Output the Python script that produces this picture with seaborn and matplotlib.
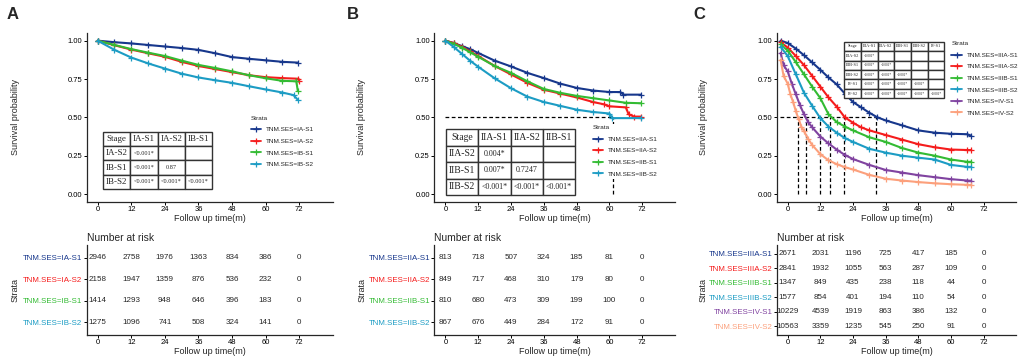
import matplotlib
matplotlib.use("Agg")
import matplotlib.pyplot as plt
from matplotlib.lines import Line2D
import seaborn as sns

W, H = 1021, 360
MONTHS = [0, 12, 24, 36, 48, 60, 72]

BLUE, RED, GREEN, CYAN, PURPLE, SALMON = "#17378c", "#f51c1c", "#33bb33", "#1c9cc4", "#8043a0", "#fca07c"

# ---------------- panel A (stage I)
a_strata = ["TNM.SES=IA-S1", "TNM.SES=IA-S2", "TNM.SES=IB-S1", "TNM.SES=IB-S2"]
a_t_ia_s1 = [0, 6, 12, 18, 24, 30, 36, 42, 48, 54, 60, 66, 71.5]
a_s_ia_s1 = [1.0, 0.99, 0.982, 0.972, 0.962, 0.952, 0.94, 0.918, 0.893, 0.882, 0.872, 0.862, 0.857]
a_t_ia_s2 = [0, 6, 12, 18, 24, 30, 36, 42, 48, 54, 60, 66, 71.5, 72]
a_s_ia_s2 = [1.0, 0.97, 0.942, 0.918, 0.895, 0.862, 0.835, 0.815, 0.795, 0.775, 0.762, 0.756, 0.752, 0.74]
a_t_ib_s1 = [0, 6, 12, 18, 24, 30, 36, 42, 48, 54, 60, 66, 71, 71.5]
a_s_ib_s1 = [1.0, 0.972, 0.945, 0.922, 0.9, 0.87, 0.842, 0.822, 0.8, 0.775, 0.755, 0.738, 0.735, 0.675]
a_t_ib_s2 = [0, 6, 12, 18, 24, 30, 36, 42, 48, 54, 60, 66, 70, 71.5]
a_s_ib_s2 = [1.0, 0.94, 0.89, 0.852, 0.818, 0.785, 0.76, 0.742, 0.725, 0.703, 0.682, 0.662, 0.645, 0.615]
a_risk_ia_s1 = [2946, 2758, 1976, 1363, 834, 386, 0]
a_risk_ia_s2 = [2158, 1947, 1359, 876, 536, 232, 0]
a_risk_ib_s1 = [1414, 1293, 948, 646, 396, 183, 0]
a_risk_ib_s2 = [1275, 1096, 741, 508, 324, 141, 0]
a_table_head = ["Stage", "IA-S1", "IA-S2", "IB-S1"]
a_table_rows = [["IA-S2", "<0.001*", "", ""],
                ["IB-S1", "<0.001*", "0.87", ""],
                ["IB-S2", "<0.001*", "<0.001*", "<0.001*"]]

# ---------------- panel B (stage II)
b_strata = ["TNM.SES=IIA-S1", "TNM.SES=IIA-S2", "TNM.SES=IIB-S1", "TNM.SES=IIB-S2"]
b_t_iia_s1 = [0, 3, 6, 9, 12, 18, 24, 30, 36, 42, 48, 54, 60, 64, 65, 71.5]
b_s_iia_s1 = [1.0, 0.985, 0.965, 0.945, 0.92, 0.87, 0.832, 0.79, 0.756, 0.72, 0.692, 0.675, 0.665, 0.665, 0.648, 0.648]
b_t_iia_s2 = [0, 3, 6, 9, 12, 18, 24, 30, 36, 42, 48, 54, 58, 60, 66, 67, 69, 71.5]
b_s_iia_s2 = [1.0, 0.985, 0.96, 0.93, 0.9, 0.835, 0.78, 0.725, 0.68, 0.655, 0.63, 0.6, 0.585, 0.572, 0.565, 0.52, 0.505, 0.505]
b_t_iib_s1 = [0, 3, 6, 9, 12, 18, 24, 30, 36, 42, 48, 54, 60, 66, 71.5]
b_s_iib_s1 = [1.0, 0.98, 0.955, 0.925, 0.895, 0.835, 0.79, 0.735, 0.685, 0.66, 0.64, 0.625, 0.61, 0.595, 0.592]
b_t_iib_s2 = [0, 3, 6, 9, 12, 18, 24, 30, 36, 42, 48, 54, 60, 61, 71.5]
b_s_iib_s2 = [1.0, 0.96, 0.915, 0.87, 0.83, 0.755, 0.69, 0.635, 0.6, 0.575, 0.55, 0.535, 0.525, 0.495, 0.495]
b_medians = [61.4]
b_risk_iia_s1 = [813, 718, 507, 324, 185, 81, 0]
b_risk_iia_s2 = [849, 717, 468, 310, 179, 80, 0]
b_risk_iib_s1 = [810, 680, 473, 309, 199, 100, 0]
b_risk_iib_s2 = [867, 676, 449, 284, 172, 91, 0]
b_table_head = ["Stage", "IIA-S1", "IIA-S2", "IIB-S1"]
b_table_rows = [["IIA-S2", "0.004*", "", ""],
                ["IIB-S1", "0.007*", "0.7247", ""],
                ["IIB-S2", "<0.001*", "<0.001*", "<0.001*"]]

# ---------------- panel C (stage III / IV)
c_strata = ["TNM.SES=IIIA-S1", "TNM.SES=IIIA-S2", "TNM.SES=IIIB-S1",
            "TNM.SES=IIIB-S2", "TNM.SES=IV-S1", "TNM.SES=IV-S2"]
c_t_iiia_s1 = [-2.6, 0, 3, 6, 9, 12, 15, 18, 21, 24, 27, 30, 33, 36, 42, 48, 54, 60, 66, 67.5]
c_s_iiia_s1 = [1.0, 0.985, 0.948, 0.905, 0.858, 0.81, 0.76, 0.715, 0.655, 0.6, 0.565, 0.53, 0.5, 0.48, 0.448, 0.415, 0.4, 0.393, 0.39, 0.378]
c_t_iiia_s2 = [-2.6, 0, 3, 6, 9, 12, 15, 18, 21, 24, 27, 30, 36, 42, 48, 54, 60, 66, 67.5]
c_s_iiia_s2 = [0.99, 0.955, 0.9, 0.84, 0.77, 0.7, 0.63, 0.57, 0.5, 0.465, 0.435, 0.415, 0.385, 0.355, 0.325, 0.305, 0.29, 0.287, 0.287]
c_t_iiib_s1 = [-2.6, 0, 3, 6, 9, 12, 15, 18, 21, 24, 30, 36, 42, 48, 54, 60, 66, 67.5]
c_s_iiib_s1 = [0.976, 0.935, 0.86, 0.78, 0.7, 0.625, 0.52, 0.47, 0.44, 0.415, 0.37, 0.34, 0.3, 0.27, 0.25, 0.225, 0.21, 0.21]
c_t_iiib_s2 = [-2.6, 0, 3, 6, 9, 12, 15, 18, 21, 24, 30, 36, 42, 48, 54, 60, 66, 67.5]
c_s_iiib_s2 = [0.96, 0.9, 0.78, 0.66, 0.575, 0.495, 0.44, 0.4, 0.365, 0.34, 0.295, 0.27, 0.25, 0.237, 0.225, 0.19, 0.177, 0.177]
c_t_iv_s1 = [-2.6, -1.5, 0, 1.5, 3, 4.5, 6, 7.5, 9, 12, 15, 18, 21, 24, 30, 36, 42, 48, 54, 60, 66, 67.5]
c_s_iv_s1 = [0.92, 0.84, 0.8, 0.72, 0.65, 0.58, 0.52, 0.47, 0.435, 0.375, 0.33, 0.29, 0.255, 0.228, 0.19, 0.157, 0.14, 0.123, 0.11, 0.097, 0.088, 0.086]
c_t_iv_s2 = [-2.6, -1.5, 0, 1, 2, 3, 4, 5, 6, 7.5, 9, 12, 15, 18, 21, 24, 30, 36, 42, 48, 54, 60, 66, 67.5]
c_s_iv_s2 = [0.875, 0.77, 0.72, 0.65, 0.6, 0.54, 0.49, 0.44, 0.41, 0.36, 0.32, 0.26, 0.22, 0.195, 0.175, 0.16, 0.125, 0.1, 0.088, 0.078, 0.07, 0.064, 0.06, 0.058]
c_medians = [3.7, 6.6, 11.7, 15.7, 20.6, 32.6]
c_risk_iiia_s1 = [2671, 2031, 1196, 725, 417, 185, 0]
c_risk_iiia_s2 = [2841, 1932, 1055, 563, 287, 109, 0]
c_risk_iiib_s1 = [1347, 849, 435, 238, 118, 44, 0]
c_risk_iiib_s2 = [1577, 854, 401, 194, 110, 54, 0]
c_risk_iv_s1 = [10229, 4539, 1919, 863, 386, 132, 0]
c_risk_iv_s2 = [10563, 3359, 1235, 545, 250, 91, 0]
c_table_head = ["Stage", "IIIA-S1", "IIIA-S2", "IIIB-S1", "IIIB-S2", "IV-S1"]
c_table_rows = [["IIIA-S2", "<0.001*", "", "", "", ""],
                ["IIIB-S1", "<0.001*", "<0.001*", "", "", ""],
                ["IIIB-S2", "<0.001*", "<0.001*", "<0.001*", "", ""],
                ["IV-S1", "<0.001*", "<0.001*", "<0.001*", "<0.001*", ""],
                ["IV-S2", "<0.001*", "<0.001*", "<0.001*", "<0.001*", "<0.001*"]]


sns.set_style("ticks")
plt.rcParams['font.family'] = ['Liberation Sans', 'DejaVu Sans']
plt.rcParams['axes.linewidth'] = 0.9


def px_axes(fig, l, t, r, b):
    return fig.add_axes([l / W, 1 - b / H, (r - l) / W, (b - t) / H])


def fig_text(fig, x, y, s, **kw):
    fig.text(x / W, 1 - y / H, s, **kw)


def style_axis(ax):
    sns.despine(ax=ax)
    ax.tick_params(length=2, width=0.7, labelsize=5.5, pad=1.2, colors='black')
    ax.set_xlim(-4, 84)
    ax.set_xticks(MONTHS)
    ax.set_xlabel('')
    ax.set_ylabel('')


def draw_km(ax, times, survs, colors):
    for t, s, c in zip(times, survs, colors):
        sns.lineplot(x=t, y=s, ax=ax, color=c, lw=1.5, marker='+', ms=4,
                     mec=c, mew=0.9, estimator=None, sort=False, legend=False)
    style_axis(ax)
    ax.set_ylim(-0.05, 1.05)
    ax.set_yticks([0, 0.25, 0.5, 0.75, 1.0])
    ax.set_yticklabels(['0.00', '0.25', '0.50', '0.75', '1.00'])


def draw_risk(ax, strata, risk, colors):
    n = len(strata)
    for i, row in enumerate(risk):
        for m, v in zip(MONTHS, row):
            ax.text(m, n - 1 - i, str(v), ha='center', va='center', fontsize=5.8)
    style_axis(ax)
    ax.set_ylim(-0.6, n - 0.4)
    ax.set_yticks(range(n - 1, -1, -1))
    ax.set_yticklabels(strata, fontsize=5.7)
    for lab, c in zip(ax.get_yticklabels(), colors):
        lab.set_color(c)
    ax.set_title('Number at risk', loc='left', fontsize=7.4, pad=3)


def draw_table(fig, box, head, rows, big, small):
    ax = px_axes(fig, *box)
    ax.axis('off')
    tab = ax.table(cellText=[head] + rows, cellLoc='center', bbox=[0, 0, 1, 1])
    tab.auto_set_font_size(False)
    for (r, c), cell in tab.get_celld().items():
        cell.set_linewidth(1.0)
        cell.set_edgecolor('#333333')
        txt = cell.get_text()
        txt.set_fontfamily('Liberation Serif')
        txt.set_fontsize(big if (r == 0 or c == 0) else small)


def draw_legend(ax, fig, strata, colors, x, y):
    handles = [Line2D([], [], color=c, lw=1.3, marker='+', ms=4, mew=0.9) for c in colors]
    leg = ax.legend(handles, strata, title='Strata', loc='upper left',
                    bbox_to_anchor=(x / W, 1 - y / H), bbox_transform=fig.transFigure,
                    fontsize=4.6, title_fontsize=4.6, alignment='left', borderaxespad=0,
                    borderpad=0.3, handlelength=1.6, handletextpad=0.8, labelspacing=0.95,
                    frameon=True, fancybox=False, edgecolor='none', facecolor='white', framealpha=1)
    leg.set_zorder(5)


fig = plt.figure(figsize=(W / 100, H / 100), dpi=100)

panels = [
    dict(letter='A', lx=7, left=86.5, right=332.7, lab_x=15,
         strata=a_strata, colors=[BLUE, RED, GREEN, CYAN],
         times=[a_t_ia_s1, a_t_ia_s2, a_t_ib_s1, a_t_ib_s2],
         survs=[a_s_ia_s1, a_s_ia_s2, a_s_ib_s1, a_s_ib_s2],
         risk=[a_risk_ia_s1, a_risk_ia_s2, a_risk_ib_s1, a_risk_ib_s2],
         legend_xy=(249, 114), medians=[], median_start=0,
         table=((102.7, 131.7, 212.3, 189), a_table_head, a_table_rows, 6.5, 4.5)),
    dict(letter='B', lx=347, left=434.4, right=675.1, lab_x=361.7,
         strata=b_strata, colors=[BLUE, RED, GREEN, CYAN],
         times=[b_t_iia_s1, b_t_iia_s2, b_t_iib_s1, b_t_iib_s2],
         survs=[b_s_iia_s1, b_s_iia_s2, b_s_iib_s1, b_s_iib_s2],
         risk=[b_risk_iia_s1, b_risk_iia_s2, b_risk_iib_s1, b_risk_iib_s2],
         legend_xy=(591, 123.5), medians=b_medians, median_start=0,
         table=((446, 129.3, 575, 195), b_table_head, b_table_rows, 7, 5.8)),
    dict(letter='C', lx=693, left=776.8, right=1016.2, lab_x=703,
         strata=c_strata, colors=[BLUE, RED, GREEN, CYAN, PURPLE, SALMON],
         times=[c_t_iiia_s1, c_t_iiia_s2, c_t_iiib_s1, c_t_iiib_s2, c_t_iv_s1, c_t_iv_s2],
         survs=[c_s_iiia_s1, c_s_iiia_s2, c_s_iiib_s1, c_s_iiib_s2, c_s_iv_s1, c_s_iv_s2],
         risk=[c_risk_iiia_s1, c_risk_iiia_s2, c_risk_iiib_s1, c_risk_iiib_s2, c_risk_iv_s1, c_risk_iv_s2],
         legend_xy=(949.5, 39.5), medians=c_medians, median_start=-3,
         table=((844.3, 41.7, 944.3, 98.3), c_table_head, c_table_rows, 3.2, 2.4)),
]

for p in panels:
    ax = px_axes(fig, p['left'], 33, p['right'], 201.7)
    draw_km(ax, p['times'], p['survs'], p['colors'])
    if p['medians']:
        ax.plot([p['median_start'], max(p['medians'])], [0.5, 0.5], color='black',
                lw=0.9, ls=(0, (3, 2)), zorder=1)
        for m in p['medians']:
            ax.plot([m, m], [0, 0.5], color='black', lw=0.9, ls=(0, (3, 2)), zorder=1)
    draw_legend(ax, fig, p['strata'], p['colors'], *p['legend_xy'])
    mid = (p['left'] + p['right']) / 2
    fig_text(fig, mid, 219, 'Follow up time(m)', ha='center', va='center', fontsize=6.5)
    fig_text(fig, p['lab_x'], 117.5, 'Survival probability', ha='center', va='center',
             rotation=90, fontsize=6.5)

    rax = px_axes(fig, p['left'], 245, p['right'], 335)
    draw_risk(rax, p['strata'], p['risk'], p['colors'])
    fig_text(fig, mid, 351.5, 'Follow up time(m)', ha='center', va='center', fontsize=6.5)
    fig_text(fig, p['lab_x'], 290, 'Strata', ha='center', va='center', rotation=90, fontsize=6.5)

    fig_text(fig, p['lx'], 7, p['letter'], ha='left', va='top', fontsize=12, fontweight='bold')

    draw_table(fig, *p['table'])

fig.savefig('out.png', dpi=100)
